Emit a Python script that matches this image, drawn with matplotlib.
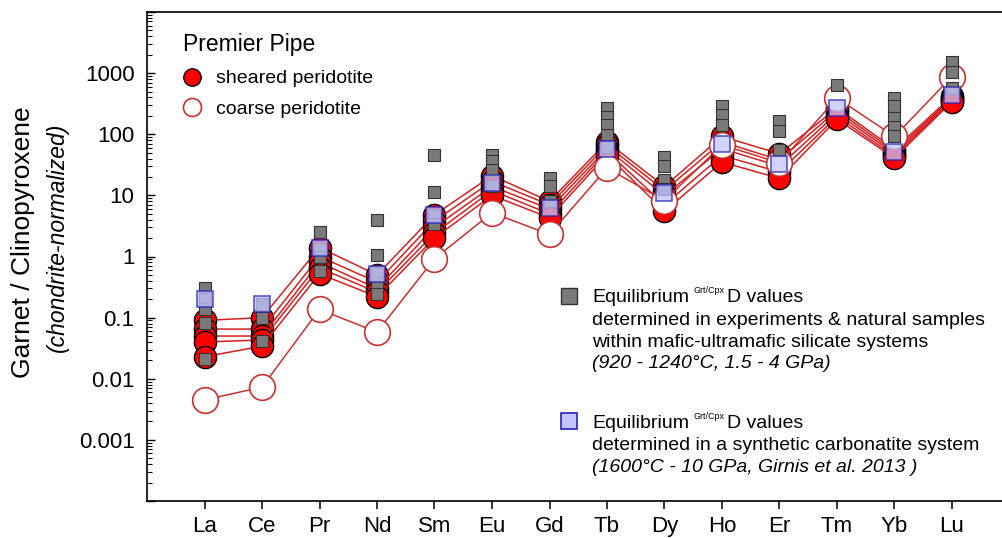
import numpy as np
import matplotlib.pyplot as plt

plt.rcParams["font.family"] = ["Liberation Sans", "DejaVu Sans"]

W, H = 1002, 538

elements = ["La", "Ce", "Pr", "Nd", "Sm", "Eu", "Gd",
            "Tb", "Dy", "Ho", "Er", "Tm", "Yb", "Lu"]

# Premier Pipe garnet/cpx ratios, chondrite-normalized
sheared_1 = [0.09, 0.10, 1.4, 0.50, 4.8, 21, 8.0, 75, 14, 92, 48, 270, 57, 420]
sheared_2 = [0.065, 0.065, 1.0, 0.38, 3.8, 17, 7.0, 66, 12, 75, 38, 245, 52, 395]
sheared_3 = [0.05, 0.05, 0.8, 0.30, 3.0, 14, 6.0, 58, 10, 58, 30, 220, 48, 375]
sheared_4 = [0.04, 0.043, 0.65, 0.26, 2.4, 12, 5.0, 52, 7.0, 45, 24, 195, 44, 355]
sheared_5 = [0.023, 0.034, 0.52, 0.22, 2.0, 10, 4.3, 46, 5.5, 35, 19, 175, 41, 340]
coarse_1 = [0.0045, 0.0073, 0.136, 0.058, 0.92, 5.2, 2.3, 28, 8.2, 67, 34, 390, 92, 880]

# equilibrium D values, silicate systems (several per element)
d_silicate = [
    [0.30, 0.20, 0.136, 0.083, 0.021],
    [0.164, 0.10, 0.042],
    [2.5, 1.35, 0.98, 0.58],
    [3.9, 1.04, 0.54, 0.37, 0.24],
    [46, 11.2, 4.7, 3.4],
    [46, 36, 26, 14],
    [19, 14, 8.0],
    [265, 195, 142, 98, 63],
    [42, 30, 18, 12.6],
    [285, 208, 143],
    [162, 115, 56],
    [640],
    [390, 285, 184, 131, 92],
    [1545, 1060, 568],
]
# carbonatite system (Girnis et al. 2013)
d_carbonatite = [0.2, 0.165, 1.4, 0.52, 4.7, 16, 6.2, 58, 11, 70, 32, 268, 52, 442]

red_line = "#d42020"
fill_red = "#ff0000"
gray_face, gray_edge = "#7a7a7a", "#333333"
blue_face, blue_edge = "#c4c4ff", "#2424b8"


def at(x, y):
    return x / W, 1 - y / H


fig = plt.figure(figsize=(W / 100, H / 100), dpi=100)
ax = fig.add_axes([147 / W, (H - 501) / H, 862.5 / W, 489 / H])

x = np.arange(1, len(elements) + 1)

for s in [sheared_1, sheared_2, sheared_3, sheared_4, sheared_5]:
    ax.plot(x, s, color=red_line, lw=1.1, marker="o", ms=16,
            mfc=fill_red, mec="black", mew=1.0, zorder=2)

ax.plot(x, coarse_1, color="#c83030", lw=1.1, marker="o", ms=18.5,
        mfc="white", mec="#c83030", mew=1.2, zorder=3)

xs = np.repeat(x, [len(d) for d in d_silicate])
ys = np.concatenate(d_silicate)
ax.plot(xs, ys, ls="none", marker="s", ms=8, mfc=gray_face, mec=gray_edge,
        mew=0.8, zorder=4)
ax.plot(x, d_carbonatite, ls="none", marker="s", ms=11.5, mfc=blue_face,
        mec=blue_edge, mew=1.2, alpha=0.75, zorder=5)

ax.set_yscale("log")
ax.set_ylim(1e-4, 1e4)
ax.set_xlim(0, 15)
ax.set_xticks(x)
ax.set_xticklabels(elements)
major = [10.0 ** k for k in range(-4, 5)]
ax.set_yticks(major)
ax.set_yticklabels(["", "0.001", "0.01", "0.1", "1", "10", "100", "1000", ""])
ax.yaxis.set_minor_locator(plt.matplotlib.ticker.LogLocator(base=10, subs=np.arange(2, 10)))
ax.yaxis.set_minor_formatter(plt.NullFormatter())

ax.tick_params(axis="x", direction="out", length=6, width=1.1, labelsize=16, pad=5)
ax.tick_params(axis="y", which="major", direction="in", length=6, width=1.0,
               labelsize=16, pad=9)
ax.tick_params(axis="y", which="minor", direction="in", length=3.5, width=0.8)
ax.spines["right"].set_visible(False)
for sp in ["left", "top", "bottom"]:
    ax.spines[sp].set_linewidth(1.2)

# axis title, two lines
fig.text(*at(23, 242), "Garnet / Clinopyroxene", rotation=90, fontsize=19,
         ha="center", va="center")
fig.text(*at(57, 237), "(chondrite-normalized)", rotation=90, fontsize=16.5,
         style="italic", ha="center", va="center")

# sample legend
fig.text(*at(183, 51.5), "Premier Pipe", fontsize=16.5, va="baseline")
ax.plot([192.3 / W], [1 - 77.3 / H], transform=fig.transFigure, marker="o",
        ms=12.5, mfc=fill_red, mec="black", mew=1.0, clip_on=False)
ax.plot([192.3 / W], [1 - 107.3 / H], transform=fig.transFigure, marker="o",
        ms=13, mfc="white", mec="#c83030", mew=1.2, clip_on=False)
fig.text(*at(216.5, 83.3), "sheared peridotite", fontsize=14, va="baseline")
fig.text(*at(216.5, 113.5), "coarse peridotite", fontsize=14, va="baseline")

# D value legend
ax.plot([568.7 / W], [1 - 296 / H], transform=fig.transFigure, marker="s",
        ms=12, mfc=gray_face, mec=gray_edge, mew=1.0, clip_on=False)
ax.plot([568.7 / W], [1 - 420.7 / H], transform=fig.transFigure, marker="s",
        ms=12, mfc=blue_face, mec=blue_edge, mew=1.2, clip_on=False)


def equilibrium_line(y):
    fig.text(*at(592.5, y), "Equilibrium", fontsize=14, va="baseline")
    fig.text(*at(694, y - 9.5), "Grt/Cpx", fontsize=6.5, va="baseline")
    fig.text(*at(727, y), "D values", fontsize=14, va="baseline")


equilibrium_line(302.3)
fig.text(*at(592.5, 324.6), "determined in experiments & natural samples",
         fontsize=14, va="baseline")
fig.text(*at(592.5, 346.9), "within mafic-ultramafic silicate systems",
         fontsize=14, va="baseline")
fig.text(*at(592.5, 368), "(920 - 1240°C, 1.5 - 4 GPa)", fontsize=14,
         style="italic", va="baseline")

equilibrium_line(428.3)
fig.text(*at(592.5, 450.3), "determined in a synthetic carbonatite system",
         fontsize=14, va="baseline")
fig.text(*at(592.5, 472), "(1600°C - 10 GPa, Girnis et al. 2013 )",
         fontsize=14, style="italic", va="baseline")

fig.savefig("out.png", dpi=100)
